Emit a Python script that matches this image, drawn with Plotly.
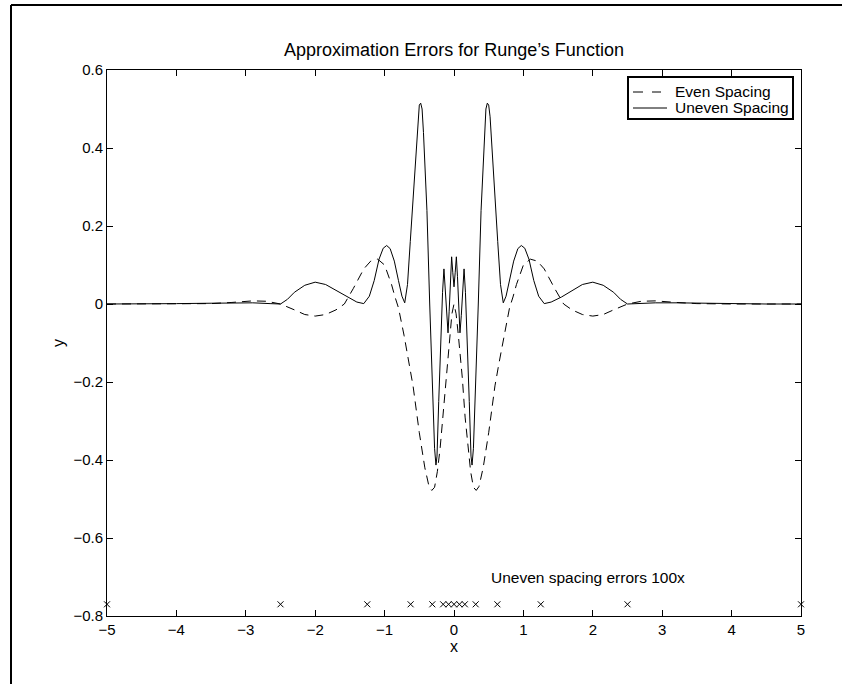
import plotly.graph_objects as go

# Interpolation error curves (read at the sample points listed)
x_even = [-5.0, -4.5, -4.0, -3.5, -3.2, -2.9, -2.7, -2.5, -2.3, -2.15, -2.0, -1.85, -1.7, -1.58,
          -1.45, -1.3, -1.2, -1.1, -1.0, -0.9, -0.85, -0.8, -0.72, -0.65, -0.59, -0.5, -0.42,
          -0.36, -0.32, -0.28, -0.24, -0.2, -0.16, -0.12, -0.09, -0.06, -0.03, 0.0,
          0.03, 0.06, 0.09, 0.12, 0.16, 0.2, 0.24, 0.28, 0.32, 0.36, 0.42, 0.5, 0.59, 0.65,
          0.72, 0.8, 0.85, 0.9, 1.0, 1.1, 1.2, 1.3, 1.45, 1.58, 1.7, 1.85, 2.0, 2.15, 2.3,
          2.5, 2.7, 2.9, 3.2, 3.5, 4.0, 4.5, 5.0]
y_even = [0.0, 0.0, 0.0, 0.001, 0.004, 0.008, 0.007, 0.0, -0.015, -0.027, -0.031, -0.027, -0.015, 0.0,
          0.04, 0.09, 0.11, 0.115, 0.10, 0.05, 0.018, -0.01, -0.08, -0.15, -0.21, -0.33, -0.42,
          -0.468, -0.478, -0.47, -0.43, -0.37, -0.29, -0.19, -0.13, -0.075, -0.025, 0.0,
          -0.025, -0.075, -0.13, -0.19, -0.29, -0.37, -0.43, -0.47, -0.478, -0.468, -0.42, -0.33, -0.21, -0.15,
          -0.08, -0.01, 0.018, 0.05, 0.10, 0.115, 0.11, 0.09, 0.04, 0.0, -0.015, -0.027, -0.031, -0.027, -0.015,
          0.0, 0.007, 0.008, 0.004, 0.001, 0.0, 0.0, 0.0]

x_uneven = [-5.0, -4.5, -4.0, -3.5, -3.2, -2.9, -2.65, -2.5, -2.4, -2.3, -2.15, -2.0, -1.85, -1.7,
            -1.55, -1.4, -1.3, -1.22, -1.15, -1.08, -1.02, -0.97, -0.92, -0.86, -0.80, -0.75,
            -0.71, -0.67, -0.63, -0.59, -0.55, -0.52, -0.50, -0.48, -0.46, -0.44, -0.42, -0.39,
            -0.35, -0.31, -0.28, -0.26, -0.245, -0.22, -0.19, -0.165, -0.145, -0.125, -0.105,
            -0.086, -0.07, -0.05, -0.034, -0.017, 0.0,
            0.017, 0.034, 0.05, 0.07, 0.086, 0.105, 0.125, 0.145, 0.165, 0.19, 0.22, 0.245,
            0.26, 0.28, 0.31, 0.35, 0.39, 0.42, 0.44, 0.46, 0.48, 0.50, 0.52, 0.55, 0.59, 0.63,
            0.67, 0.71, 0.75, 0.80, 0.86, 0.92, 0.97, 1.02, 1.08, 1.15, 1.22, 1.3, 1.4, 1.55,
            1.7, 1.85, 2.0, 2.15, 2.3, 2.4, 2.5, 2.65, 2.9, 3.2, 3.5, 4.0, 4.5, 5.0]
y_uneven = [0.0, 0.0, 0.001, 0.002, 0.003, 0.003, 0.001, 0.0, 0.012, 0.03, 0.048, 0.056, 0.05, 0.035,
            0.018, 0.005, 0.001, 0.02, 0.06, 0.115, 0.143, 0.15, 0.142, 0.11, 0.06, 0.02,
            0.003, 0.05, 0.16, 0.27, 0.40, 0.48, 0.51, 0.515, 0.50, 0.44, 0.36, 0.24,
            0.0, -0.23, -0.37, -0.413, -0.39, -0.25, -0.08, 0.03, 0.09, 0.03, -0.03,
            -0.074, -0.02, 0.07, 0.121, 0.08, 0.044,
            0.08, 0.121, 0.07, -0.02, -0.074, -0.03, 0.03, 0.09, 0.03, -0.08, -0.25, -0.39,
            -0.413, -0.37, -0.23, 0.0, 0.24, 0.36, 0.44, 0.50, 0.515, 0.51, 0.48, 0.40, 0.27, 0.16,
            0.05, 0.003, 0.02, 0.06, 0.11, 0.142, 0.15, 0.143, 0.115, 0.06, 0.02, 0.001, 0.005, 0.018,
            0.035, 0.05, 0.056, 0.048, 0.03, 0.012, 0.0, 0.001, 0.003, 0.003, 0.002, 0.001, 0.0, 0.0]

# Uneven interpolation nodes, shown as crosses along the bottom
x_nodes = [-5.0, -2.5, -1.25, -0.625, -0.3125, -0.15625, -0.078125, 0.0,
           0.078125, 0.15625, 0.3125, 0.625, 1.25, 2.5, 5.0]
y_nodes = [-0.77] * len(x_nodes)

x_ticks = [-5, -4, -3, -2, -1, 0, 1, 2, 3, 4, 5]
y_ticks = [-0.8, -0.6, -0.4, -0.2, 0, 0.2, 0.4, 0.6]
y_ticklabels = ["\u22120.8", "\u22120.6", "\u22120.4", "\u22120.2", "0", "0.2", "0.4", "0.6"]
x_ticklabels = ["\u22125", "\u22124", "\u22123", "\u22122", "\u22121", "0", "1", "2", "3", "4", "5"]

series_names = ["Even Spacing", "Uneven Spacing"]

FONT = "Liberation Sans, Arial, Helvetica, sans-serif"
DASH = "9px,6px"

fig = go.Figure()
fig.add_trace(go.Scatter(
    x=x_even, y=y_even, mode="lines", name=series_names[0], showlegend=False,
    line=dict(color="black", width=1, dash=DASH),
))
fig.add_trace(go.Scatter(
    x=x_uneven, y=y_uneven, mode="lines", name=series_names[1], showlegend=False,
    line=dict(color="black", width=1),
))
fig.add_trace(go.Scatter(
    x=x_nodes, y=y_nodes, mode="markers", showlegend=False,
    marker=dict(symbol="x-thin", size=6, line=dict(color="black", width=1)),
    cliponaxis=False,
))

fig.add_annotation(
    x=0.5, y=-0.7, xref="x", yref="y", text="Uneven spacing errors 100x",
    showarrow=False, xanchor="left", yanchor="middle",
    font=dict(family=FONT, size=15.5, color="black"),
)

# Legend box drawn in plot-area (paper) coordinates
def px_x(p):
    return (p - 107) / 694.0


def px_y(p):
    return (616 - p) / 546.0


fig.add_shape(type="rect", xref="paper", yref="paper",
              x0=px_x(628), x1=px_x(793), y0=px_y(119), y1=px_y(77),
              line=dict(color="black", width=2), fillcolor="white", layer="above")
row_y = [px_y(92), px_y(108)]
# dashed sample
fig.add_shape(type="line", xref="paper", yref="paper", x0=px_x(633), x1=px_x(643),
              y0=row_y[0], y1=row_y[0], line=dict(color="black", width=1), layer="above")
fig.add_shape(type="line", xref="paper", yref="paper", x0=px_x(652), x1=px_x(661),
              y0=row_y[0], y1=row_y[0], line=dict(color="black", width=1), layer="above")
# solid sample
fig.add_shape(type="line", xref="paper", yref="paper", x0=px_x(633), x1=px_x(667),
              y0=row_y[1], y1=row_y[1], line=dict(color="black", width=1), layer="above")
for name, yy in zip(series_names, row_y):
    fig.add_annotation(x=px_x(673), y=yy, xref="paper", yref="paper", text=name,
                       showarrow=False, xanchor="left", yanchor="middle",
                       font=dict(family=FONT, size=15.5, color="black"))

# Figure frame
frame = dict(color="black", width=2)
fig.add_shape(type="line", xref="paper", yref="paper", x0=px_x(11), x1=px_x(11),
              y0=px_y(5), y1=px_y(700), line=frame)
fig.add_shape(type="line", xref="paper", yref="paper", x0=px_x(11), x1=px_x(850),
              y0=px_y(5), y1=px_y(5), line=frame)

axis_common = dict(
    showline=True, linecolor="black", linewidth=1, mirror="allticks",
    ticks="inside", ticklen=6, tickcolor="black", tickwidth=1,
    showgrid=False, zeroline=False,
    tickfont=dict(family=FONT, size=15, color="black"),
)

fig.update_layout(
    width=842, height=684,
    margin=dict(l=107, r=41, t=70, b=68),
    paper_bgcolor="white", plot_bgcolor="white",
    title=dict(text="Approximation Errors for Runge\u2019s Function", x=0.5, xref="paper",
               y=1 - 50 / 684, yref="container", yanchor="middle", xanchor="center",
               font=dict(family=FONT, size=18, color="black")),
    xaxis=dict(range=[-5, 5], tickvals=x_ticks, ticktext=x_ticklabels,
               title=dict(text="x", font=dict(family=FONT, size=16, color="black"), standoff=2),
               **axis_common),
    yaxis=dict(range=[-0.8, 0.6], tickvals=y_ticks, ticktext=y_ticklabels,
               title=dict(text="y", font=dict(family=FONT, size=16, color="black"), standoff=4),
               **axis_common),
    showlegend=False,
)

fig.write_html("out.html")
